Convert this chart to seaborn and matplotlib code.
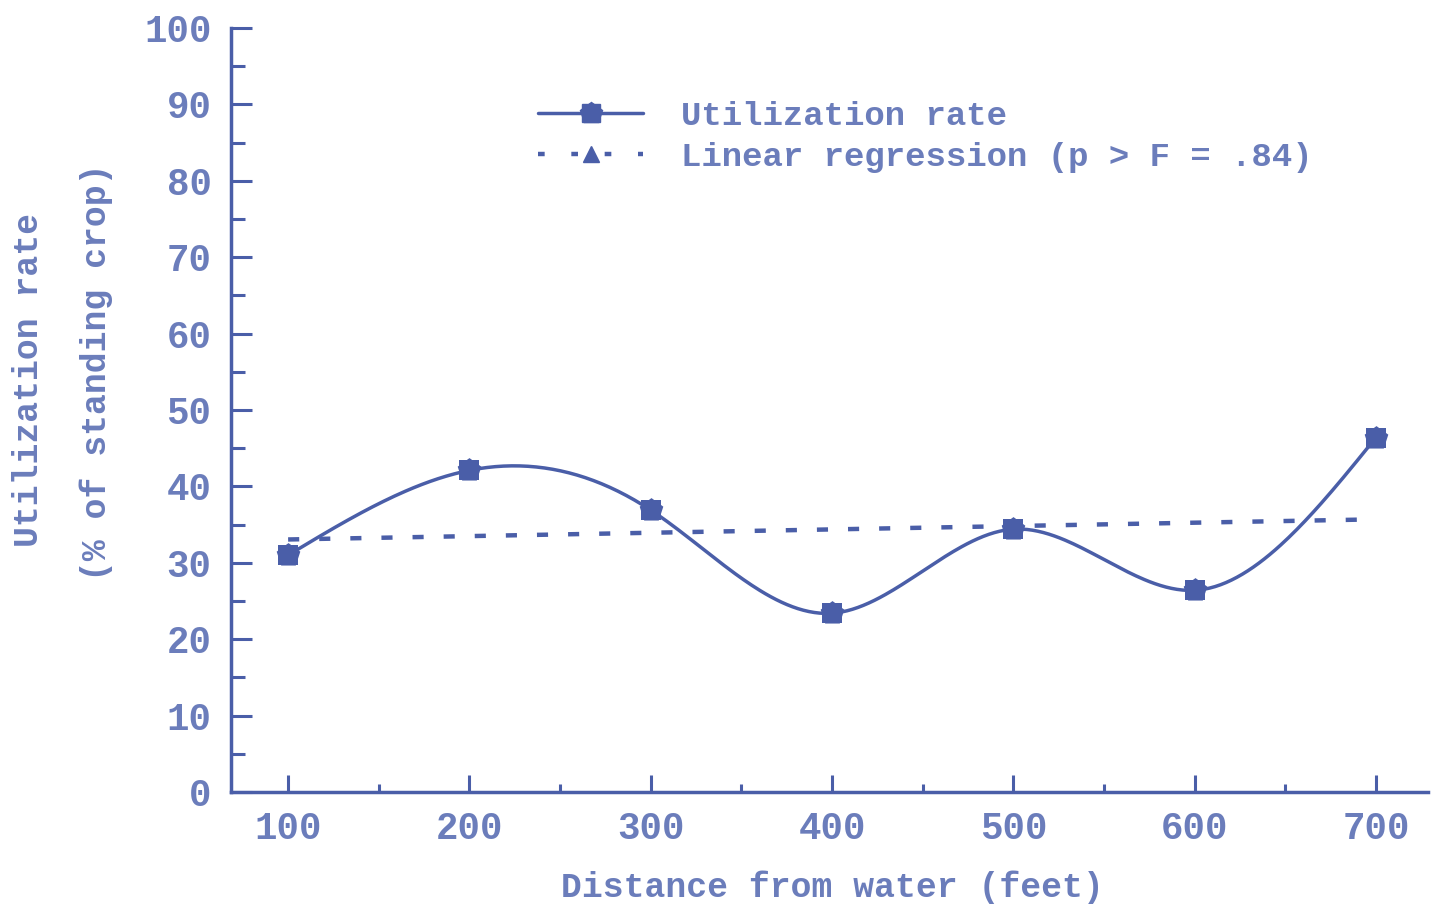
import numpy as np
import pandas as pd
import matplotlib
matplotlib.use("Agg")
import matplotlib.pyplot as plt
import seaborn as sns
from matplotlib.lines import Line2D
from matplotlib.legend_handler import HandlerTuple
from matplotlib.ticker import MultipleLocator

# ---- data ----
distance = [100, 200, 300, 400, 500, 600, 700]
utilization = [31.0, 42.1, 36.9, 23.4, 34.4, 26.4, 46.4]
x_ticks = [100, 200, 300, 400, 500, 600, 700]
y_ticks = [0, 10, 20, 30, 40, 50, 60, 70, 80, 90, 100]
label_util = "Utilization rate"
label_reg = "Linear regression (p > F = .84)"
x_label = "Distance from water (feet)"
y_label1 = "Utilization rate"
y_label2 = "(% of standing crop)"

LINE = "#4a5ea8"
TEXT = "#6b7dbb"
FONT = "Liberation Mono"

sns.set_theme(style="white")
plt.rcParams["font.family"] = [FONT, "DejaVu Sans"]
plt.rcParams["font.weight"] = "bold"

df = pd.DataFrame({"distance": distance, "utilization": utilization})


def natural_spline(x, y, n=400):
    x = np.asarray(x, float)
    y = np.asarray(y, float)
    k = len(x)
    h = np.diff(x)
    A = np.zeros((k, k))
    b = np.zeros(k)
    A[0, 0] = A[-1, -1] = 1
    for i in range(1, k - 1):
        A[i, i - 1] = h[i - 1]
        A[i, i] = 2 * (h[i - 1] + h[i])
        A[i, i + 1] = h[i]
        b[i] = 3 * ((y[i + 1] - y[i]) / h[i] - (y[i] - y[i - 1]) / h[i - 1])
    c = np.linalg.solve(A, b)
    xs = np.linspace(x[0], x[-1], n)
    idx = np.clip(np.searchsorted(x, xs) - 1, 0, k - 2)
    dx = xs - x[idx]
    bb = (y[idx + 1] - y[idx]) / h[idx] - h[idx] * (2 * c[idx] + c[idx + 1]) / 3
    dd = (c[idx + 1] - c[idx]) / (3 * h[idx])
    ys = y[idx] + bb * dx + c[idx] * dx ** 2 + dd * dx ** 3
    return xs, ys


fig = plt.figure(figsize=(14.37, 9.11), dpi=100)
ax = fig.add_axes([231 / 1437, 119 / 911, (1428 - 231) / 1437, (792 - 28) / 911])

xs, ys = natural_spline(df["distance"], df["utilization"])
sns.lineplot(x=xs, y=ys, ax=ax, color=LINE, lw=2.5, sort=False)

sns.regplot(data=df, x="distance", y="utilization", ax=ax, scatter=False, ci=None,
            truncate=True,
            line_kws=dict(color=LINE, lw=3.2, linestyle=(0, (2.5, 4.5))))

sns.scatterplot(data=df, x="distance", y="utilization", ax=ax, marker="p", s=320,
                color=LINE, edgecolor=LINE, linewidth=0, zorder=5)
sns.scatterplot(data=df, x="distance", y="utilization", ax=ax, marker="s", s=220,
                color=LINE, edgecolor=LINE, linewidth=0, zorder=5)

ax.set_xlim(68.5, 728.7)
ax.set_ylim(0, 100)
ax.set_xticks(x_ticks)
ax.set_yticks(y_ticks)
ax.xaxis.set_minor_locator(MultipleLocator(50))
ax.yaxis.set_minor_locator(MultipleLocator(5))
ax.tick_params(axis="x", which="major", direction="in", length=12, width=2.2,
               color=LINE, labelcolor=TEXT, labelsize=27, pad=14)
ax.tick_params(axis="x", which="minor", direction="in", length=6, width=2.2,
               color=LINE)
ax.tick_params(axis="y", which="major", direction="in", length=15, width=2.2,
               color=LINE, labelcolor=TEXT, labelsize=27, pad=14)
ax.tick_params(axis="y", which="minor", direction="in", length=10, width=2.2,
               color=LINE)
ax.tick_params(bottom=True, left=True, which="both")
for t in ax.get_xticklabels() + ax.get_yticklabels():
    t.set_fontweight("bold")

for s in ["top", "right"]:
    ax.spines[s].set_visible(False)
for s in ["left", "bottom"]:
    ax.spines[s].set_color(LINE)
    ax.spines[s].set_linewidth(2.5)

ax.set_xlabel("")
ax.set_ylabel("")
fig.text(832 / 1437, 1 - 887 / 911, x_label, ha="center", va="center",
         fontsize=25, color=TEXT, fontweight="bold")
fig.text(29 / 1437, 1 - 380 / 911, y_label1, ha="center", va="center",
         rotation=90, fontsize=25, color=TEXT, fontweight="bold")
fig.text(96 / 1437, 1 - 372 / 911, y_label2, ha="center", va="center",
         rotation=90, fontsize=25, color=TEXT, fontweight="bold")

h_util = (Line2D([], [], color=LINE, lw=2.5),
          Line2D([], [], color=LINE, lw=0, marker="p", markersize=16),
          Line2D([], [], color=LINE, lw=0, marker="s", markersize=13))
h_reg = (Line2D([], [], color=LINE, lw=3.2, linestyle=(0, (1.5, 6))),
         Line2D([], [], color=LINE, lw=0, marker="^", markersize=12))
leg = ax.legend([h_util, h_reg], [label_util, label_reg],
                handler_map={tuple: HandlerTuple(ndivide=1, pad=0)},
                loc="upper left", bbox_to_anchor=(538 / 1437, 1 - 101 / 911),
                bbox_transform=fig.transFigure, frameon=False,
                prop=dict(family=FONT, size=24.5, weight="bold"),
                handlelength=3.1, handletextpad=1.1, labelspacing=0.3,
                borderpad=0, borderaxespad=0)
for t in leg.get_texts():
    t.set_color(TEXT)

fig.savefig("out.png", dpi=100, facecolor="white")
